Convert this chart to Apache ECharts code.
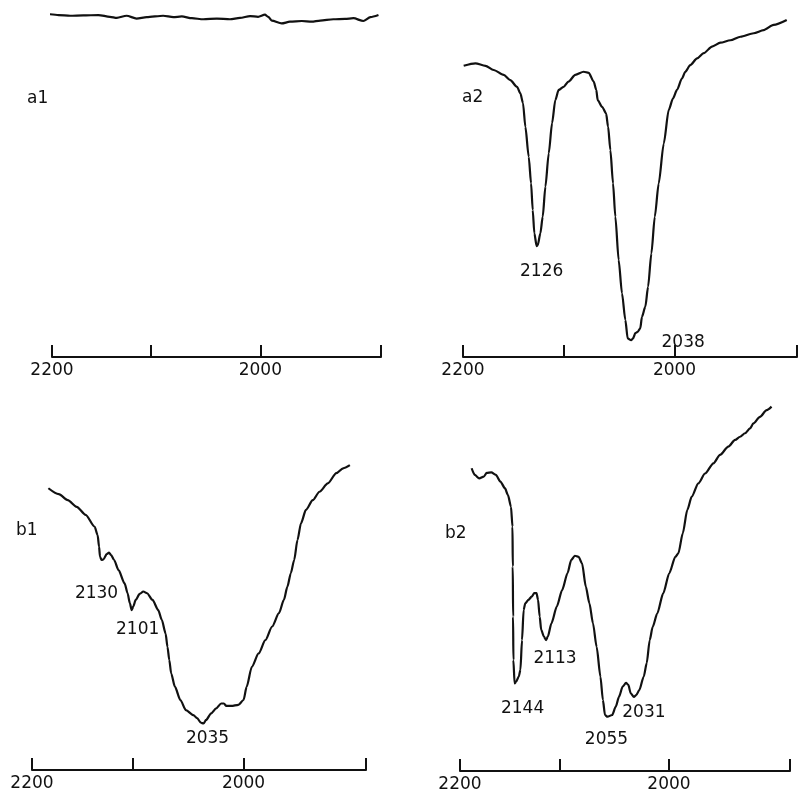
<!DOCTYPE html>
<html>
<head>
<meta charset="utf-8">
<script src="https://cdn.jsdelivr.net/npm/echarts@6/dist/echarts.min.js"></script>
<style>
  html, body { margin: 0; padding: 0; background: #ffffff; }
  #chart { width: 800px; height: 793px; }
</style>
</head>
<body>
<div id="chart"></div>
<script>
// Wavenumber scale (cm-1): ticks and labelled ticks
const X_TICKS = [2200, 2100, 2000, 1900];
const X_LABELS = [2200, 2000];

// IR spectra: [wavenumber cm-1, transmittance %]
const a1Spectrum = [
  [2204, 98.0], [2193, 97.7], [2181, 97.5], [2167.5, 97.6], [2152, 97.7], [2140.5, 97.2],
  [2133.6, 96.9], [2124, 97.5], [2114.2, 96.7], [2104.3, 97.1], [2088.6, 97.5], [2079, 97.1],
  [2071, 97.3], [2061.6, 96.8], [2051, 96.5], [2038.7, 96.7], [2026.9, 96.5], [2018, 96.9],
  [2009, 97.4], [2002, 97.2], [1996, 97.8], [1993.2, 97.2], [1990.1, 96.1], [1981.6, 95.3],
  [1974.5, 95.8], [1964.5, 96.0], [1956.2, 95.8], [1949.1, 96.1], [1938.3, 96.5], [1928.7, 96.6],
  [1922, 96.8], [1914, 96.0], [1908.4, 97.1], [1902, 97.7]
];

const a2Spectrum = [
  [2199.3, 83.2], [2187.2, 83.9], [2176.9, 83.2], [2168.6, 82.0], [2158.5, 80.6], [2151.9, 79.1],
  [2145.2, 77.2], [2141.9, 75.3], [2139.3, 72.5], [2137.0, 65.8], [2133.7, 57.2], [2131.4, 49.6],
  [2129.8, 42.0], [2128.2, 35.3], [2126, 31.7], [2124.9, 32.0], [2122.4, 35.3], [2120.1, 40.1],
  [2117.5, 48.7], [2114.3, 58.2], [2111.1, 66.8], [2108.0, 73.4], [2104.8, 76.3], [2100.1, 77.2],
  [2095.5, 78.7], [2089.1, 80.6], [2081.3, 81.5], [2076.6, 81.2], [2072.0, 78.7], [2069.6, 76.3],
  [2068.3, 73.4], [2064.3, 71.5], [2060.6, 69.6], [2058.8, 65.8], [2056.7, 59.1], [2054.3, 49.6],
  [2052.2, 40.1], [2049.2, 27.7], [2046.2, 18.2], [2043.2, 10.6], [2041.1, 5.3], [2038, 4.8],
  [2036.3, 5.3], [2034.3, 6.8], [2032.2, 7.2], [2029.9, 8.2], [2028.4, 11.5], [2025.4, 14.4],
  [2023.0, 20.1], [2020.1, 29.6], [2017.1, 40.1], [2013.7, 49.6], [2009.3, 61.0], [2005.0, 70.6],
  [2001.3, 73.9], [1997.9, 76.3], [1993.6, 79.6], [1990.8, 81.5], [1986.6, 83.4], [1980.8, 85.3],
  [1975.2, 86.8], [1968.3, 88.7], [1961.3, 89.8], [1953.1, 90.5], [1944.9, 91.5], [1934.2, 92.5],
  [1926.2, 93.4], [1918.3, 94.9], [1908.0, 96.3]
];

const b1Spectrum = [
  [2183.1, 80.5], [2172.5, 78.8], [2163.4, 77.1], [2154.5, 75.2], [2145.6, 72.9], [2136.7, 69.5],
  [2133.8, 67.1], [2132.4, 63.8], [2131.5, 61.0], [2130, 60.0], [2128.0, 60.2], [2125.0, 61.7],
  [2122.7, 62.1], [2120.7, 61.4], [2117.8, 60.0], [2113.5, 57.1], [2107.7, 53.3], [2104.9, 50.5],
  [2102.7, 47.6], [2101, 45.7], [2099.5, 46.7], [2097.2, 48.6], [2093.5, 50.3], [2090.0, 51.0],
  [2086.5, 50.5], [2081.4, 48.6], [2076.1, 45.7], [2072.8, 42.9], [2069.3, 39.0], [2067.6, 35.2],
  [2065.9, 31.4], [2064.2, 27.6], [2060.8, 23.8], [2055.8, 20.0], [2050.8, 17.1], [2044.1, 15.7],
  [2040.7, 14.8], [2037.3, 13.5], [2035, 13.3], [2032.7, 14.3], [2028.2, 16.2], [2023.8, 17.6],
  [2019.4, 19.0], [2017.0, 19.0], [2014.9, 18.3], [2010.4, 18.3], [2004.5, 18.6], [2000.0, 20.0],
  [1997.3, 23.8], [1992.9, 29.5], [1987.1, 33.3], [1981.4, 37.1], [1975.7, 41.0], [1970.0, 44.8],
  [1965.9, 48.6], [1963.0, 52.4], [1960.2, 56.2], [1957.4, 60.0], [1954.7, 65.7], [1951.8, 70.5],
  [1947.8, 74.3], [1942.2, 77.1], [1936.8, 79.5], [1930.1, 81.9], [1923.3, 84.8], [1917.9, 86.2],
  [1912.6, 87.1]
];

const b2Spectrum = [
  [2187.8, 86.5], [2184.6, 84.6], [2179.9, 83.6], [2175.3, 84.1], [2172.2, 85.2], [2167.5, 85.3],
  [2162.9, 84.6], [2158.3, 82.7], [2153.7, 80.8], [2150.7, 78.9], [2147.6, 75.5], [2146.1, 69.8],
  [2145.8, 58.4], [2145.5, 44.1], [2145.2, 31.7], [2144, 25.0], [2142.5, 25.5], [2139.8, 27.0],
  [2138.2, 28.9], [2136.6, 37.4], [2135.0, 46.0], [2133.4, 47.9], [2130.2, 48.9], [2127.1, 49.8],
  [2124.5, 50.8], [2122.3, 50.8], [2120.8, 48.9], [2119.2, 44.1], [2117.7, 40.3], [2115.1, 38.4],
  [2113, 37.4], [2111.3, 38.4], [2107.8, 42.2], [2102.6, 47.0], [2097.5, 51.7], [2092.4, 56.5],
  [2088.8, 60.3], [2085.4, 61.5], [2081.9, 61.2], [2078.6, 59.3], [2075.1, 52.7], [2071.7, 47.9],
  [2068.4, 42.2], [2065.0, 35.5], [2061.5, 27.0], [2059.2, 20.3], [2057.3, 16.0], [2055, 15.5],
  [2050.7, 16.0], [2047.4, 18.4], [2044.5, 21.2], [2041.1, 24.1], [2038.1, 25.2], [2036.0, 24.6],
  [2033.9, 22.2], [2031, 21.2], [2028.9, 21.7], [2026.2, 23.1], [2022.2, 27.0], [2019.6, 30.8],
  [2016.9, 37.4], [2014.3, 41.2], [2010.3, 45.0], [2005.0, 50.8], [1999.8, 56.5], [1994.5, 61.2],
  [1991.9, 62.2], [1988.1, 67.9], [1984.2, 74.6], [1980.4, 78.4], [1974.8, 82.2], [1969.1, 85.0],
  [1962.1, 87.9], [1956.6, 90.3], [1949.7, 92.7], [1944.1, 94.6], [1940.0, 95.5], [1936.0, 96.5],
  [1931.9, 97.9], [1929.2, 99.3], [1923.9, 101.2], [1918.5, 103.1], [1914.6, 104.1]
];

// Labelled absorption bands (cm-1)
const a1Peaks = [];
const a2Peaks = [2126, 2038];
const b1Peaks = [2130, 2101, 2035];
const b2Peaks = [2144, 2113, 2055, 2031];

// The recorder chart is linear in wavelength (µm)
const toMicron = w => 1e4 / w;

const INK = '#111111';
const FONT = '"DejaVu Sans", sans-serif';

const panels = [
  { tag: 'a1', data: a1Spectrum, peaks: a1Peaks, offsets: [],
    grid: { left: 52, top: 7, width: 329, height: 350 }, tagPos: [27, 90] },
  { tag: 'a2', data: a2Spectrum, peaks: a2Peaks, offsets: [[5, 26], [52, 2]],
    grid: { left: 463, top: 7, width: 334, height: 350 }, tagPos: [462, 89] },
  { tag: 'b1', data: b1Spectrum, peaks: b1Peaks, offsets: [[-5, 34], [6, 20], [4, 15]],
    grid: { left: 32, top: 420, width: 334, height: 350 }, tagPos: [16, 522] },
  { tag: 'b2', data: b2Spectrum, peaks: b2Peaks, offsets: [[8, 25], [9, 18], [-1, 23], [10, 16]],
    grid: { left: 460, top: 421, width: 330, height: 350 }, tagPos: [445, 525] }
];

const grids = [], xAxes = [], yAxes = [], series = [], graphics = [];

panels.forEach((p, i) => {
  grids.push(p.grid);
  xAxes.push({
    type: 'value',
    gridIndex: i,
    min: toMicron(2200),
    max: toMicron(1900),
    axisLine: { show: true, lineStyle: { color: INK, width: 2 } },
    axisTick: {
      show: true, inside: true, length: 12,
      customValues: X_TICKS.map(toMicron),
      lineStyle: { color: INK, width: 2 }
    },
    axisLabel: {
      show: true,
      customValues: X_LABELS.map(toMicron),
      formatter: v => String(Math.round(1e4 / v)),
      color: INK, fontFamily: FONT, fontSize: 17, margin: 5
    },
    splitLine: { show: false }
  });
  yAxes.push({ type: 'value', gridIndex: i, min: 0, max: 100, show: false });

  series.push({
    type: 'line',
    xAxisIndex: i, yAxisIndex: i,
    data: p.data.map(([w, t]) => [toMicron(w), t]),
    showSymbol: false,
    smooth: 0.25,
    smoothMonotone: 'x',
    clip: false,
    lineStyle: { color: INK, width: 2.2 },
    silent: true,
    animation: false
  });

  if (p.peaks.length) {
    series.push({
      type: 'scatter',
      xAxisIndex: i, yAxisIndex: i,
      symbolSize: 0,
      clip: false,
      silent: true,
      animation: false,
      itemStyle: { opacity: 1, color: INK },
      data: p.peaks.map((w, k) => {
        const pt = p.data.find(d => d[0] === w);
        return {
          value: [toMicron(w), pt[1]],
          label: { offset: p.offsets[k] }
        };
      }),
      label: {
        show: true,
        position: 'inside',
        align: 'center',
        verticalAlign: 'middle',
        formatter: d => String(Math.round(1e4 / d.value[0])),
        color: INK, opacity: 1, textBorderWidth: 0,
        fontFamily: FONT, fontSize: 17
      }
    });
  }

  graphics.push({
    type: 'text',
    left: p.tagPos[0], top: p.tagPos[1],
    style: { text: p.tag, fill: INK, font: '17px ' + FONT }
  });
});

const chart = echarts.init(document.getElementById('chart'), null, { renderer: 'canvas' });
chart.setOption({
  backgroundColor: '#ffffff',
  animation: false,
  grid: grids,
  xAxis: xAxes,
  yAxis: yAxes,
  series: series,
  graphic: graphics
});
</script>
</body>
</html>
